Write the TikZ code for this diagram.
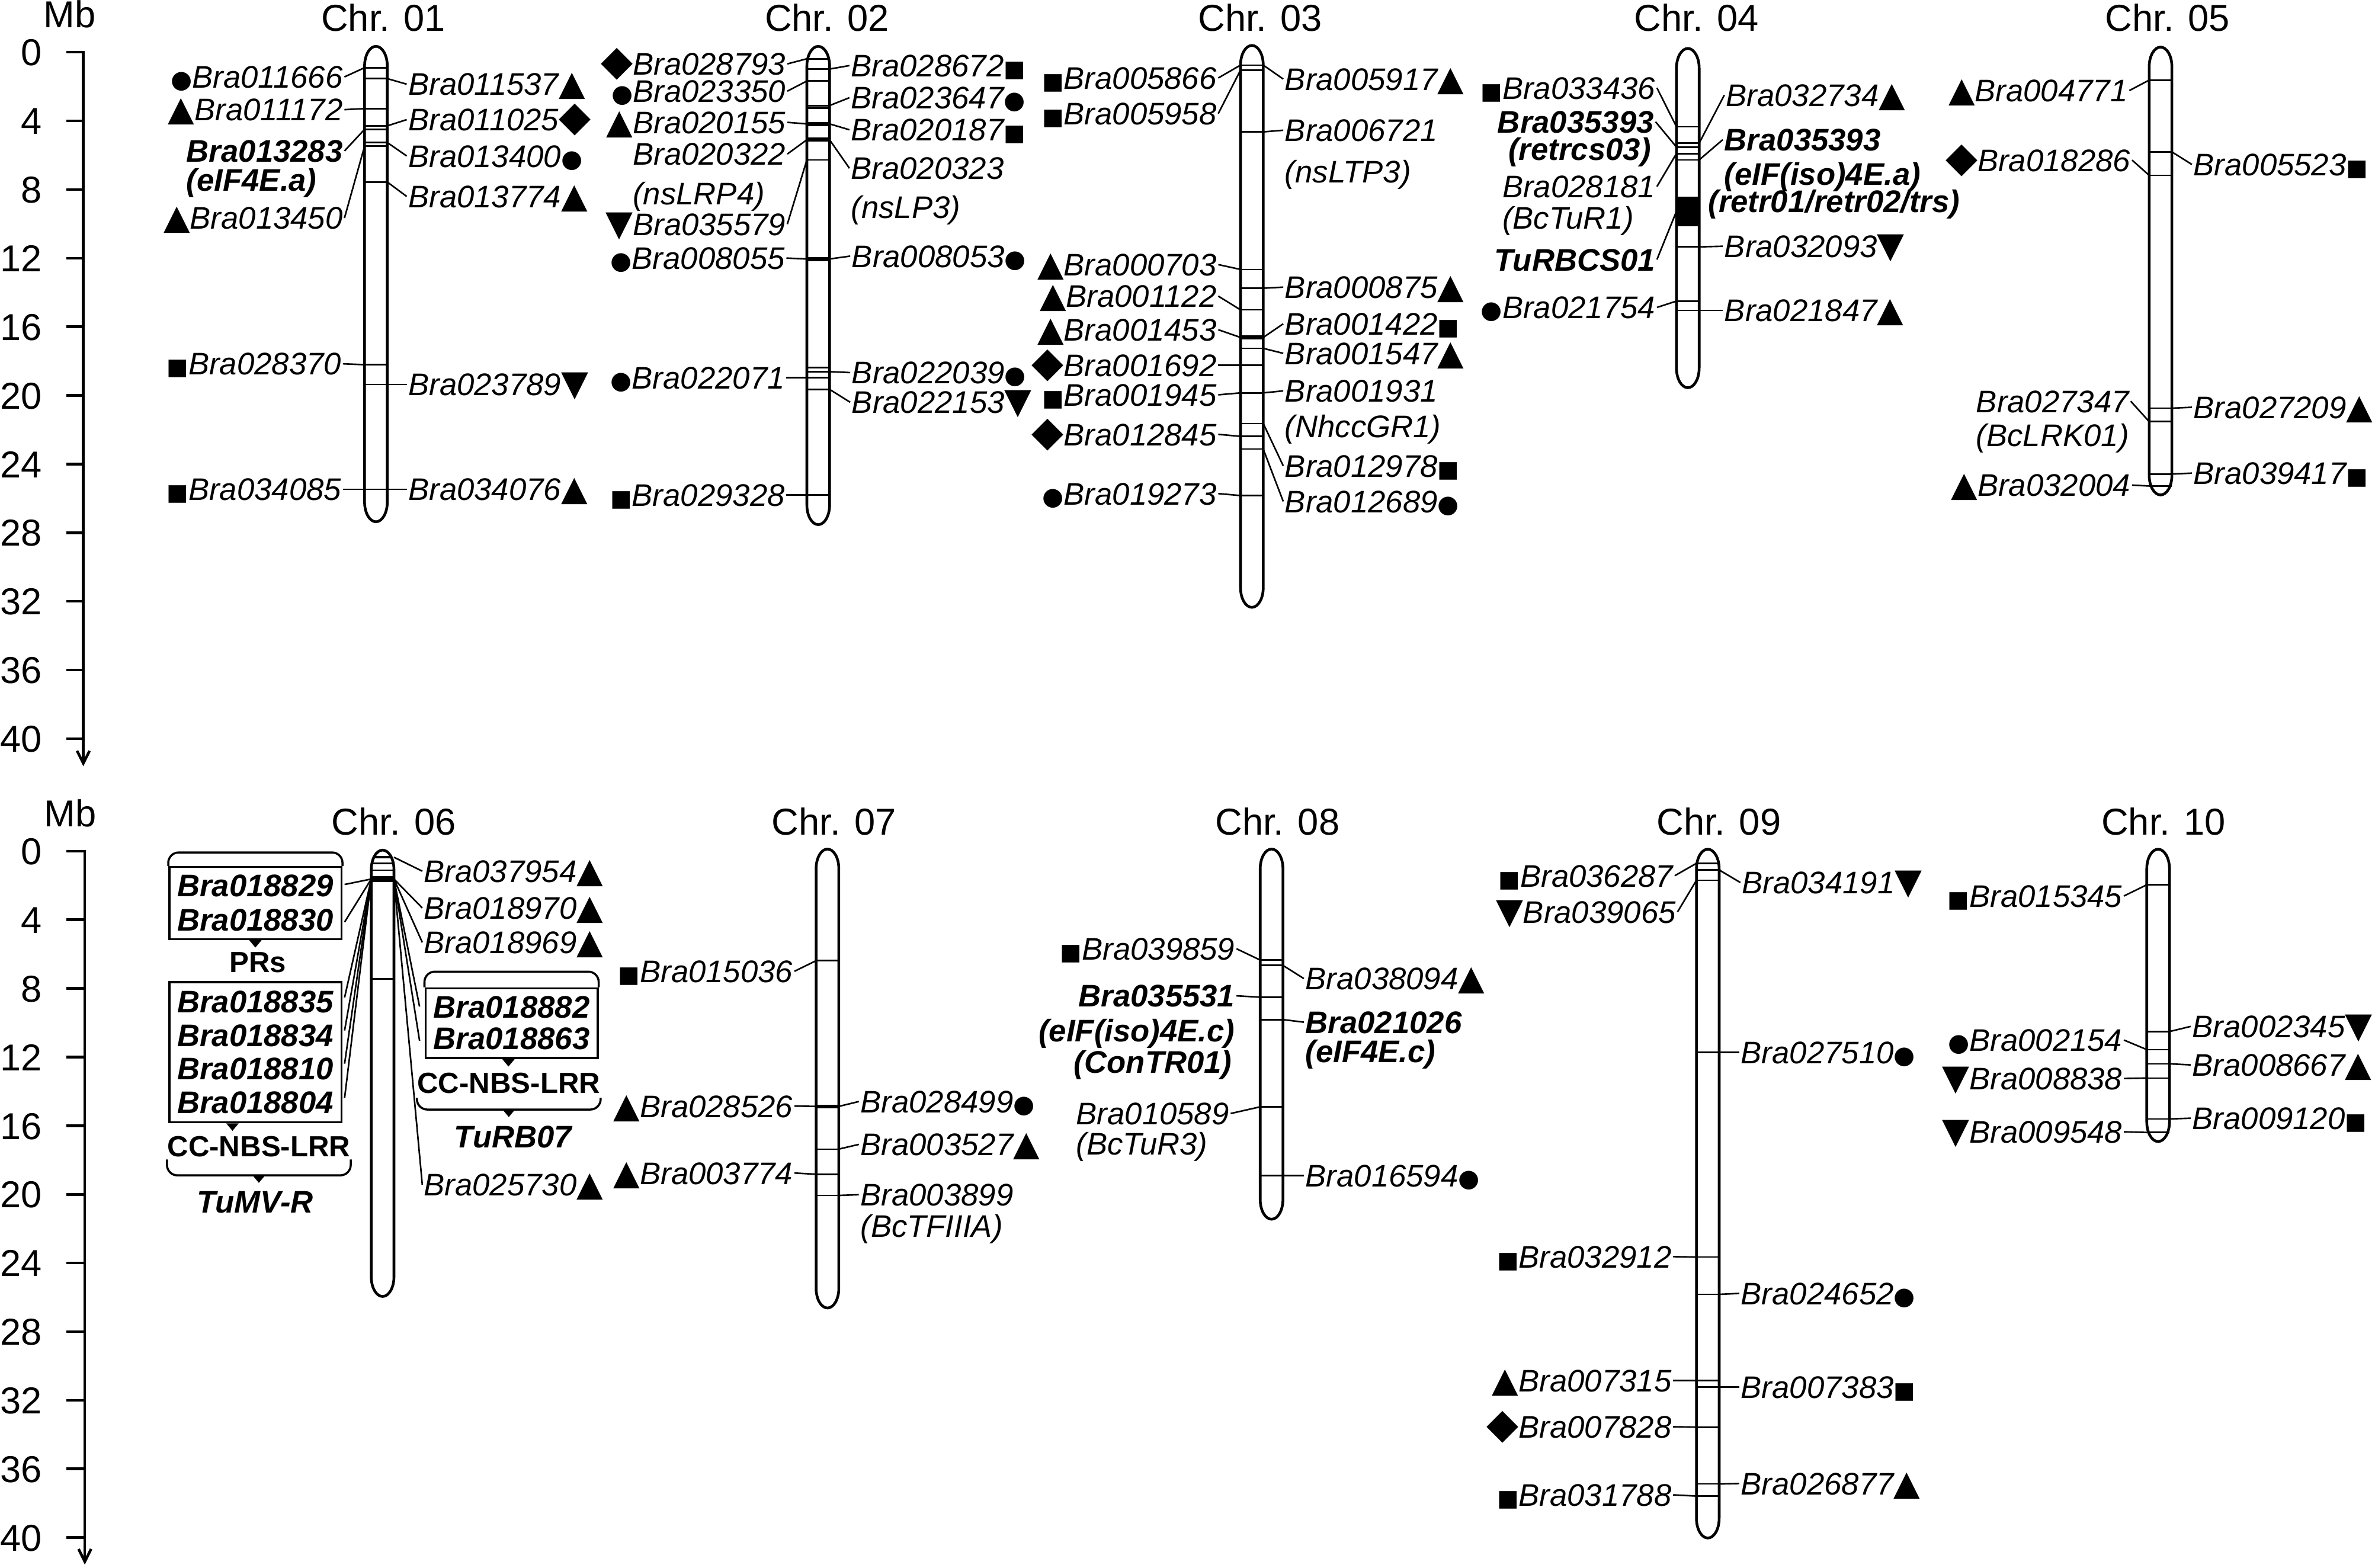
\documentclass[tikz,border=0pt]{standalone}
\usepackage{fontspec}
\setmainfont{Liberation Sans}
\newfontfamily\symf{DejaVu Sans}
\usetikzlibrary{arrows.meta}

\newcommand{\cir}{{\symf\upshape\mdseries\fontsize{11.8}{11.8}\selectfont ●}}
\newcommand{\tri}{{\symf\upshape\mdseries\fontsize{16.5}{16.5}\selectfont ▲}}
\newcommand{\dtri}{{\symf\upshape\mdseries\fontsize{17}{17}\selectfont ▼}}
\newcommand{\dia}{{\symf\upshape\mdseries\fontsize{20}{20}\selectfont ◆}}
\newcommand{\sqr}{{\symf\upshape\mdseries\fontsize{11}{11}\selectfont ■}}
% capsule: centre x, top, bottom
\newcommand{\chrpath}[3]{(#1-7.5,#2+13) arc[start angle=180,end angle=360,x radius=7.5,y radius=13] -- (#1+7.5,#3-13) arc[start angle=0,end angle=180,x radius=7.5,y radius=13] -- cycle}

\tikzstyle{chrom} = [line width=1.3pt]
\tikzstyle{band} = [fill, draw=none, rectangle, minimum width=10.9pt, minimum height=0.75pt, inner sep=0pt, outer sep=0pt]
\tikzstyle{lead} = [line width=0.75pt]
\tikzstyle{axis} = [line width=1.3pt]
\tikzstyle{glab} = [inner xsep=0.6pt, inner ysep=0pt, text height=10.7pt, text depth=0pt, font=\fontsize{15}{15}\selectfont\itshape]
\tikzstyle{gl} = [glab, anchor=east]
\tikzstyle{gr} = [glab, anchor=west]
\tikzstyle{bi} = [font=\fontsize{15}{15}\selectfont\bfseries\itshape]
\tikzstyle{chrlab} = [anchor=base, inner sep=0pt, font=\fontsize{18}{18}\selectfont]
\tikzstyle{num} = [anchor=east, inner sep=0pt, text height=12.9pt, text depth=0pt, font=\fontsize{18}{18}\selectfont]
\tikzstyle{gbox} = [draw, line width=1pt, align=center, minimum width=82.7pt, inner sep=0pt]
\tikzstyle{hood} = [line width=1pt, rounded corners=5pt]
\tikzstyle{grp} = [inner sep=0pt, text height=10pt, text depth=0pt, font=\fontsize{14}{14}\selectfont\bfseries]

\begin{document}
\begin{tikzpicture}[x=0.025568cm, y=-0.025568cm]
\useasboundingbox (0,0) rectangle (1568,1035);

% axes
\node[chrlab] (mbu) at (46,18.3) {Mb};
\node[chrlab] (mbl) at (46.3,546) {Mb};
\coordinate (ua0) at (44,34.5);
\coordinate (ua) at (55,34.5);
\coordinate (uz) at (55,506);
\coordinate (la0) at (44,562);
\coordinate (la) at (56,562);
\coordinate (lz) at (56,1033);
\draw[axis,-{Straight Barb[length=6pt,width=6pt]}] (ua0) -- (ua) -- (uz);
\draw[axis,-{Straight Barb[length=6pt,width=6pt]}] (la0) -- (la) -- (lz);
\foreach \k in {0,4,...,40} {
  \node[num] (ut\k) at (28,34.5+\k*11.33) {\k};
  \node[num] (lt\k) at (28,562+\k*11.33) {\k};
}
\foreach \k in {4,8,...,40} {
  \draw[axis] (44,34.5+\k*11.33) -- (55,34.5+\k*11.33);
  \draw[axis] (44,562+\k*11.33) -- (56,562+\k*11.33);
}

% Chr. 01
\begin{scope}
  \clip \chrpath{248.2}{30.6}{344.5};
  \foreach \n/\y in {a/44.7,b/51.9,c/71.7,d/83.1,e/85.4,f/94.1,g/96.5,h/120.2,i/240.8,j/253.9,k/323}
    \node[band] (b1\n) at (248.2,\y) {};
\end{scope}
\draw[chrom] \chrpath{248.2}{30.6}{344.5};
\node[chrlab] (chr01) at (253.1,20.4) {Chr. 01};
\node[gl] (g011666) at (227.4,50.8) {\cir Bra011666};
\node[gl] (g011172) at (227.4,72.4) {\tri Bra011172};
\node[gl,bi] (g013283) at (227.4,99.7) {Bra013283};
\node[gr,bi] (n013283) at (g013283.west |- 0,118.6) {(eIF4E.a)};
\node[gl] (g013450) at (227.4,144) {\tri Bra013450};
\node[gl] (g028370) at (226.4,240.2) {\sqr Bra028370};
\node[gl] (g034085) at (226.4,323) {\sqr Bra034085};
\node[gr] (g011537) at (268.5,55.6) {Bra011537\tri};
\node[gr] (g011025) at (268.5,79) {Bra011025\dia};
\node[gr] (g013400) at (268.5,103) {Bra013400\cir};
\node[gr] (g013774) at (268.5,129.7) {Bra013774\tri};
\node[gr] (g023789) at (268.5,253.9) {Bra023789\dtri};
\node[gr] (g034076) at (268.5,323) {Bra034076\tri};
\draw[lead] (g011666.east) -- (b1a.west);
\draw[lead] (g011172.east) -- (b1c.west);
\draw[lead] (g013283.east) -- (b1e.west);
\draw[lead] (g013450.east) -- (b1g.west);
\draw[lead] (g028370.east) -- (b1i.west);
\draw[lead] (g034085.east) -- (b1k.west);
\draw[lead] (b1b.east) -- (g011537.west);
\draw[lead] (b1d.east) -- (g011025.west);
\draw[lead] (b1f.east) -- (g013400.west);
\draw[lead] (b1h.east) -- (g013774.west);
\draw[lead] (b1j.east) -- (g023789.west);
\draw[lead] (b1k.east) -- (g034076.west);

% Chr. 02
\begin{scope}
  \clip \chrpath{540.2}{30.6}{346.4};
  \foreach \n/\y in {a/38.8,b/45.6,c/53.5,d/69.7,e/71.5,h/105.6,j/242.8,k/245.4,l/249.3,m/257.1,n/326.9}
    \node[band] (b2\n) at (540.2,\y) {};
  \foreach \n/\y in {f/81.8,g/92.3,i/171}
    \node[band,minimum height=2pt] (b2\n) at (540.2,\y) {};
\end{scope}
\draw[chrom] \chrpath{540.2}{30.6}{346.4};
\node[chrlab] (chr02) at (546,20.4) {Chr. 02};
\node[gl] (g028793) at (519.8,42.2) {\dia Bra028793};
\node[gl] (g023350) at (519.8,60.2) {\cir Bra023350};
\node[gl] (g020155) at (519.8,80.8) {\tri Bra020155};
\node[gl] (g020322) at (519.8,101.7) {Bra020322};
\node[gr] (n020322) at (g020322.west |- 0,127.8) {(nsLRP4)};
\node[gl] (g035579) at (519.8,148) {\dtri Bra035579};
\node[gl] (g008055) at (519.2,170.4) {\cir Bra008055};
\node[gl] (g022071) at (519.2,249.3) {\cir Bra022071};
\node[gl] (g029328) at (519.2,326.9) {\sqr Bra029328};
\node[gr] (g028672) at (560.8,43.3) {Bra028672\sqr};
\node[gr] (g023647) at (560.8,64.5) {Bra023647\cir};
\node[gr] (g020187) at (560.8,85.7) {Bra020187\sqr};
\node[gr] (g020323) at (560.8,111.1) {Bra020323};
\node[gr] (n020323) at (g020323.west |- 0,136.9) {(nsLP3)};
\node[gr] (g008053) at (561.3,169.1) {Bra008053\cir};
\node[gr] (g022039) at (561.3,246) {Bra022039\cir};
\node[gr] (g022153) at (561.3,265.6) {Bra022153\dtri};
\draw[lead] (g028793.east) -- (b2a.west);
\draw[lead] (g023350.east) -- (b2c.west);
\draw[lead] (g020155.east) -- (b2f.west);
\draw[lead] (g020322.east) -- (b2g.west);
\draw[lead] (g035579.east) -- (b2h.west);
\draw[lead] (g008055.east) -- (b2i.west);
\draw[lead] (g022071.east) -- (b2l.west);
\draw[lead] (g029328.east) -- (b2n.west);
\draw[lead] (b2b.east) -- (g028672.west);
\draw[lead] (b2d.east) -- (g023647.west);
\draw[lead] (b2f.east) -- (g020187.west);
\draw[lead] (b2g.east) -- (g020323.west);
\draw[lead] (b2i.east) -- (g008053.west);
\draw[lead] (b2k.east) -- (g022039.west);
\draw[lead] (b2m.east) -- (g022153.west);

% Chr. 03
\begin{scope}
  \clip \chrpath{826.5}{30}{401};
  \foreach \n/\y in {a/43,b/46.3,c/87.1,d/177.9,e/190.3,f/204.6,h/230,i/241.1,j/259.4,k/279.6,l/288.1,m/296.5,n/327.2}
    \node[band] (b3\n) at (826.5,\y) {};
  \node[band,minimum height=1.8pt] (b3g) at (826.5,222.8) {};
\end{scope}
\draw[chrom] \chrpath{826.5}{30}{401};
\node[chrlab] (chr03) at (832,20.4) {Chr. 03};
\node[gl] (g005866) at (804.3,51.5) {\sqr Bra005866};
\node[gl] (g005958) at (804.3,75) {\sqr Bra005958};
\node[gl] (g000703) at (804.3,174.7) {\tri Bra000703};
\node[gl] (g001122) at (804.3,195.5) {\tri Bra001122};
\node[gl] (g001453) at (804.3,217.7) {\tri Bra001453};
\node[gl] (g001692) at (804.3,241.1) {\dia Bra001692};
\node[gl] (g001945) at (804.3,260.7) {\sqr Bra001945};
\node[gl] (g012845) at (804.3,286.8) {\dia Bra012845};
\node[gl] (g019273) at (804.3,325.9) {\cir Bra019273};
\node[gr] (g005917) at (847.2,52.2) {Bra005917\tri};
\node[gr] (g006721) at (847.2,86) {Bra006721};
\node[gr] (n006721) at (g006721.west |- 0,113.4) {(nsLTP3)};
\node[gr] (g000875) at (847.2,189.6) {Bra000875\tri};
\node[gr] (g001422) at (847.2,213.8) {Bra001422\sqr};
\node[gr] (g001547) at (847.2,233.3) {Bra001547\tri};
\node[gr] (g001931) at (847.2,258.1) {Bra001931};
\node[gr] (n001931) at (g001931.west |- 0,281.5) {(NhccGR1)};
\node[gr] (g012978) at (847.2,307.6) {Bra012978\sqr};
\node[gr] (g012689) at (847.2,331.1) {Bra012689\cir};
\draw[lead] (g005866.east) -- (b3a.west);
\draw[lead] (g005958.east) -- (b3b.west);
\draw[lead] (g000703.east) -- (b3d.west);
\draw[lead] (g001122.east) -- (b3f.west);
\draw[lead] (g001453.east) -- (b3g.west);
\draw[lead] (g001692.east) -- (b3i.west);
\draw[lead] (g001945.east) -- (b3j.west);
\draw[lead] (g012845.east) -- (b3l.west);
\draw[lead] (g019273.east) -- (b3n.west);
\draw[lead] (b3a.east) -- (g005917.west);
\draw[lead] (b3c.east) -- (g006721.west);
\draw[lead] (b3e.east) -- (g000875.west);
\draw[lead] (b3g.east) -- (g001422.west);
\draw[lead] (b3h.east) -- (g001547.west);
\draw[lead] (b3j.east) -- (g001931.west);
\draw[lead] (b3k.east) -- (g012978.west);
\draw[lead] (b3m.east) -- (g012689.west);

% Chr. 04
\begin{scope}
  \clip \chrpath{1114.3}{32}{256};
  \foreach \n/\y in {a/83.7,b/94.5,c/97.1,d/101.4,e/105.6,f/163,g/198.8,h/204.9}
    \node[band] (b4\n) at (1114.3,\y) {};
  \node[band,minimum height=14.2pt] (b4x) at (1114.3,139.5) {};
\end{scope}
\draw[chrom] \chrpath{1114.3}{32}{256};
\node[chrlab] (chr04) at (1120,20.4) {Chr. 04};
\node[gl] (g033436) at (1093.9,58) {\sqr Bra033436};
\node[gl,bi] (g035393) at (1093,80.4) {Bra035393};
\node[gl,bi] (n035393) at (1091,98.4) {(retrcs03)};
\node[gl] (g028181) at (1093.9,123.2) {Bra028181};
\node[gr] (n028181) at (g028181.west |- 0,143.7) {(BcTuR1)};
\node[gl,bi] (gturbcs) at (1093.9,171.4) {TuRBCS01};
\node[gl] (g021754) at (1093.9,203) {\cir Bra021754};
\node[gr] (g032734) at (1138.4,62.8) {Bra032734\tri};
\node[gr,bi] (g035393r) at (1137.4,92.2) {Bra035393};
\node[gr,bi] (n035393r) at (g035393r.west |- 0,114.7) {(eIF(iso)4E.a)};
\node[gr,bi] (m035393r) at (1126.7,133) {(retr01/retr02/trs)};
\node[gr] (g032093) at (1137.4,162.6) {Bra032093\dtri};
\node[gr] (g021847) at (1137.4,204.9) {Bra021847\tri};
\draw[lead] (g033436.east) -- (b4a.west);
\draw[lead] (g035393.east) -- (b4c.west);
\draw[lead] (g028181.east) -- (b4d.west);
\draw[lead] (gturbcs.east) -- (b4x.west);
\draw[lead] (g021754.east) -- (b4g.west);
\draw[lead] (b4b.east) -- (g032734.west);
\draw[lead] (b4e.east) -- (g035393r.west);
\draw[lead] (b4f.east) -- (g032093.west);
\draw[lead] (b4h.east) -- (g021847.west);

% Chr. 05
\begin{scope}
  \clip \chrpath{1426.4}{31.1}{326.8};
  \foreach \n/\y in {a/52.9,b/100.3,c/115.8,d/269.5,e/278.4,f/313}
    \node[band] (b5\n) at (1426.4,\y) {};
\end{scope}
\node[band] (b5g) at (1426.4,320.9) {};
\draw[chrom] \chrpath{1426.4}{31.1}{326.8};
\node[chrlab] (chr05) at (1431,20.4) {Chr. 05};
\node[gl] (g004771) at (1405.8,59.8) {\tri Bra004771};
\node[gl] (g018286) at (1407.6,105.7) {\dia Bra018286};
\node[gl] (g027347) at (1406.7,264.9) {Bra027347};
\node[gr] (n027347) at (g027347.west |- 0,287.3) {(BcLRK01)};
\node[gl] (g032004) at (1407.6,320.3) {\tri Bra032004};
\node[gr] (g005523) at (1447.1,108.6) {Bra005523\sqr};
\node[gr] (g027209) at (1447.1,268.9) {Bra027209\tri};
\node[gr] (g039417) at (1447.1,312.4) {Bra039417\sqr};
\draw[lead] (g004771.east) -- (b5a.west);
\draw[lead] (g018286.east) -- (b5c.west);
\draw[lead] (g027347.east) -- (b5e.west);
\draw[lead] (g032004.east) -- (b5g.west);
\draw[lead] (b5b.east) -- (g005523.west);
\draw[lead] (b5d.east) -- (g027209.west);
\draw[lead] (b5f.east) -- (g039417.west);

% Chr. 06
\begin{scope}
  \clip \chrpath{252.6}{561.3}{856};
  \foreach \n/\y in {b/570,c/574.5,d/646.2}
    \node[band] (b6\n) at (252.6,\y) {};
  \node[band,minimum height=1.2pt] (b6a) at (252.6,566) {};
  \node[band,minimum height=2.8pt] (b6x) at (252.6,580.4) {};
\end{scope}
\draw[chrom] \chrpath{252.6}{561.3}{856};
\node[chrlab] (chr06) at (260,551.2) {Chr. 06};
\node[gbox, minimum height=34.6pt, font=\fontsize{15}{16.4}\selectfont\bfseries\itshape] (prbox) at (168.6,596.25) {Bra018829\\Bra018830};
\draw[hood] (prbox.north west) -- ([yshift=6.5pt]prbox.north west) -- ([yshift=6.5pt]prbox.north east) -- (prbox.north east);
\fill ([xshift=-3pt]prbox.south) -- ([xshift=3pt]prbox.south) -- ([yshift=-3.6pt]prbox.south) -- cycle;
\node[grp] (prs) at (170.3,635) {PRs};
\node[gbox, minimum height=67.3pt, font=\fontsize{15}{16.2}\selectfont\bfseries\itshape] (nbsbox) at (168.6,694.75) {Bra018835\\Bra018834\\Bra018810\\Bra018804};
\fill ([xshift=-14pt]nbsbox.south) -- ([xshift=-8pt]nbsbox.south) -- ([xshift=-11pt,yshift=-3.6pt]nbsbox.south) -- cycle;
\node[grp] (ccl) at (170.9,756.8) {CC-NBS-LRR};
\draw[hood] ([yshift=-1.2pt]ccl.south west) -- ([yshift=-8.8pt]ccl.south west) -- ([yshift=-8.8pt]ccl.south east) -- ([yshift=-1.2pt]ccl.south east);
\fill ([xshift=-3pt,yshift=-8.8pt]ccl.south) -- ([xshift=3pt,yshift=-8.8pt]ccl.south) -- ([yshift=-12.4pt]ccl.south) -- cycle;
\node[glab,bi] (tumvr) at (168.4,793.4) {TuMV-R};
\node[gbox, minimum height=33.5pt, font=\fontsize{15}{15.1}\selectfont\bfseries\itshape] (rbbox) at (337.75,675.55) {Bra018882\\Bra018863};
\draw[hood] (rbbox.north west) -- ([yshift=7.5pt]rbbox.north west) -- ([yshift=7.5pt]rbbox.north east) -- (rbbox.north east);
\fill ([xshift=-4.5pt]rbbox.south) -- ([xshift=1.5pt]rbbox.south) -- ([xshift=-1.5pt,yshift=-3.6pt]rbbox.south) -- cycle;
\node[grp] (ccr) at (335.9,715) {CC-NBS-LRR};
\draw[hood] ([yshift=-2pt]ccr.south west) -- ([yshift=-7.6pt]ccr.south west) -- ([yshift=-7.6pt]ccr.south east) -- ([yshift=-2pt]ccr.south east);
\fill ([xshift=-3pt,yshift=-7.6pt]ccr.south) -- ([xshift=3pt,yshift=-7.6pt]ccr.south) -- ([yshift=-11.2pt]ccr.south) -- cycle;
\node[glab,bi] (turb07) at (338.7,750.6) {TuRB07};
\node[gr] (g037954) at (278.8,575.2) {Bra037954\tri};
\node[gr] (g018970) at (278.8,599.5) {Bra018970\tri};
\node[gr] (g018969) at (278.8,622.2) {Bra018969\tri};
\node[gr] (g025730) at (278.8,782.2) {Bra025730\tri};
\coordinate (q18829) at (227.5,584);
\coordinate (q18830) at (227.5,608.8);
\coordinate (q18835) at (227.5,658.6);
\coordinate (q18834) at (227.5,680.4);
\coordinate (q18810) at (227.5,702.3);
\coordinate (q18804) at (227.5,725);
\coordinate (p18882) at (277,664.6);
\coordinate (p18863) at (277,687.2);
\draw[lead] (q18829) -- (b6x.west);
\draw[lead] (q18830) -- (b6x.west);
\draw[lead] (q18835) -- (b6x.west);
\draw[lead] (q18834) -- (b6x.west);
\draw[lead] (q18810) -- (b6x.west);
\draw[lead] (q18804) -- (b6x.west);
\draw[lead] (b6a.east) -- (g037954.west);
\draw[lead] (b6x.east) -- (g018970.west);
\draw[lead] (b6x.east) -- (g018969.west);
\draw[lead] (b6x.east) -- (p18882);
\draw[lead] (b6x.east) -- (p18863);
\draw[lead] (b6x.east) -- (g025730.west);

% Chr. 07
\begin{scope}
  \clip \chrpath{546.3}{560.6}{863.6};
  \foreach \n/\y in {a/634.3,c/758.7,d/775.3,e/789.3}
    \node[band] (b7\n) at (546.3,\y) {};
  \node[band,minimum height=1.6pt] (b7b) at (546.3,730.5) {};
\end{scope}
\draw[chrom] \chrpath{546.3}{560.6}{863.6};
\node[chrlab] (chr07) at (550.5,551.2) {Chr. 07};
\node[gl] (g015036) at (524.5,641.3) {\sqr Bra015036};
\node[gl] (g028526) at (524.5,730.3) {\tri Bra028526};
\node[gl] (g003774) at (524.5,774.5) {\tri Bra003774};
\node[gr] (g028499) at (567,727.3) {Bra028499\cir};
\node[gr] (g003527) at (567,755.6) {Bra003527\tri};
\node[gr] (g003899) at (567,788.8) {Bra003899};
\node[gr] (n003899) at (g003899.west |- 0,809.4) {(BcTFIIIA)};
\draw[lead] (g015036.east) -- (b7a.west);
\draw[lead] (g028526.east) -- (b7b.west);
\draw[lead] (g003774.east) -- (b7d.west);
\draw[lead] (b7b.east) -- (g028499.west);
\draw[lead] (b7c.east) -- (g003527.west);
\draw[lead] (b7e.east) -- (g003899.west);

% Chr. 08
\begin{scope}
  \clip \chrpath{839.5}{560.6}{805};
  \foreach \n/\y in {a/633.9,b/637.4,c/658.4,d/673.2,e/730.8,f/776.2}
    \node[band] (b8\n) at (839.5,\y) {};
\end{scope}
\draw[chrom] \chrpath{839.5}{560.6}{805};
\node[chrlab] (chr08) at (843.4,551.2) {Chr. 08};
\node[gl] (g039859) at (816.3,626.4) {\sqr Bra039859};
\node[gl,bi] (g035531) at (816.3,657.5) {Bra035531};
\node[gl,bi] (n035531) at (g035531.east |- 0,680.5) {(eIF(iso)4E.c)};
\node[gl,bi] (m035531) at (814.4,701.1) {(ConTR01)};
\node[gl] (g010589) at (812.5,735.2) {Bra010589};
\node[gr] (n010589) at (g010589.west |- 0,755.3) {(BcTuR3)};
\node[gr] (g038094) at (860.8,646.1) {Bra038094\tri};
\node[gr,bi] (g021026) at (860.8,674.9) {Bra021026};
\node[gr,bi] (n021026) at (g021026.west |- 0,694.1) {(eIF4E.c)};
\node[gr] (g016594) at (860.8,776.2) {Bra016594\cir};
\draw[lead] (g039859.east) -- (b8a.west);
\draw[lead] (g035531.east) -- (b8c.west);
\draw[lead] (g010589.east) -- (b8e.west);
\draw[lead] (b8b.east) -- (g038094.west);
\draw[lead] (b8d.east) -- (g021026.west);
\draw[lead] (b8f.east) -- (g016594.west);

% Chr. 09
\begin{scope}
  \clip \chrpath{1127.5}{560.7}{1015.5};
  \foreach \n/\y in {a/570,b/574.4,c/581.2,d/694.9,e/830,f/854.6,g/911.4,h/915.7,i/942.3,j/979.8,k/987.8}
    \node[band] (b9\n) at (1127.5,\y) {};
\end{scope}
\draw[chrom] \chrpath{1127.5}{560.7}{1015.5};
\node[chrlab] (chr09) at (1134.8,551.2) {Chr. 09};
\node[gl] (g036287) at (1105.7,578.2) {\sqr Bra036287};
\node[gl] (g039065) at (1107.5,602.1) {\dtri Bra039065};
\node[gl] (g032912) at (1104.6,829.7) {\sqr Bra032912};
\node[gl] (g007315) at (1104.6,911.4) {\tri Bra007315};
\node[gl] (g007828) at (1104.6,942) {\dia Bra007828};
\node[gl] (g031788) at (1104.6,987) {\sqr Bra031788};
\node[gr] (g034191) at (1149,582.7) {Bra034191\dtri};
\node[gr] (g027510) at (1148.3,694.9) {Bra027510\cir};
\node[gr] (g024652) at (1148.3,854) {Bra024652\cir};
\node[gr] (g007383) at (1148.3,915.7) {Bra007383\sqr};
\node[gr] (g026877) at (1148.3,979.5) {Bra026877\tri};
\draw[lead] (g036287.east) -- (b9a.west);
\draw[lead] (g039065.east) -- (b9c.west);
\draw[lead] (g032912.east) -- (b9e.west);
\draw[lead] (g007315.east) -- (b9g.west);
\draw[lead] (g007828.east) -- (b9i.west);
\draw[lead] (g031788.east) -- (b9k.west);
\draw[lead] (b9b.east) -- (g034191.west);
\draw[lead] (b9d.east) -- (g027510.west);
\draw[lead] (b9f.east) -- (g024652.west);
\draw[lead] (b9h.east) -- (g007383.west);
\draw[lead] (b9j.east) -- (g026877.west);

% Chr. 10
\begin{scope}
  \clip \chrpath{1424.8}{560.7}{753.7};
  \foreach \n/\y in {a/584.2,b/681.1,c/693,d/702.4,e/711.8,f/738.8}
    \node[band] (b10\n) at (1424.8,\y) {};
\end{scope}
\node[band] (b10g) at (1424.8,747.7) {};
\draw[chrom] \chrpath{1424.8}{560.7}{753.7};
\node[chrlab] (chr10) at (1428.4,551.2) {Chr. 10};
\node[gl] (g015345) at (1402.2,591.6) {\sqr Bra015345};
\node[gl] (g002154) at (1402.2,686.7) {\cir Bra002154};
\node[gl] (g008838) at (1402.2,712.1) {\dtri Bra008838};
\node[gl] (g009548) at (1402.2,747.3) {\dtri Bra009548};
\node[gr] (g002345) at (1446.3,677.7) {Bra002345\dtri};
\node[gr] (g008667) at (1446.3,703.1) {Bra008667\tri};
\node[gr] (g009120) at (1446.3,738.3) {Bra009120\sqr};
\draw[lead] (g015345.east) -- (b10a.west);
\draw[lead] (g002154.east) -- (b10c.west);
\draw[lead] (g008838.east) -- (b10e.west);
\draw[lead] (g009548.east) -- (b10g.west);
\draw[lead] (b10b.east) -- (g002345.west);
\draw[lead] (b10d.east) -- (g008667.west);
\draw[lead] (b10f.east) -- (g009120.west);

\end{tikzpicture}
\end{document}
